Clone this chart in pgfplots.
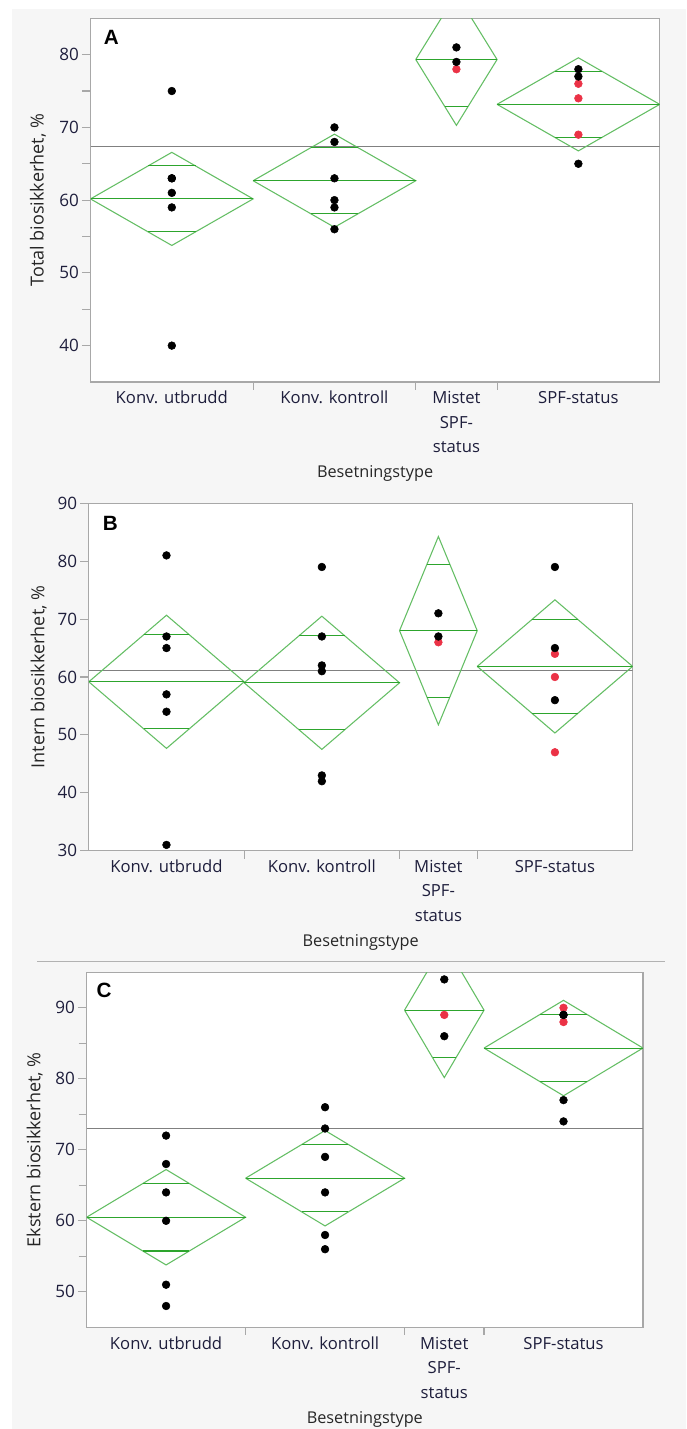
\documentclass[border=0pt]{standalone}
\usepackage{fontspec}
\setmainfont{Open Sans}
\newfontfamily\arialfont{Liberation Sans}
\usepackage{pgfplots}
\pgfplotsset{compat=1.18}
\definecolor{bg}{HTML}{F6F6F6}
\definecolor{dgreen}{RGB}{100,190,100}
\definecolor{mgreen}{RGB}{45,165,45}
\definecolor{ptred}{RGB}{235,50,70}
\definecolor{tickc}{RGB}{30,30,60}
\definecolor{framec}{HTML}{A8A8A8}
\definecolor{meanc}{HTML}{808080}
\newcommand{\mistet}{\vtop{\halign{\hfil##\hfil\cr Mistet\cr SPF-\cr status\cr}}}
\newcommand{\dia}[6]{%
  \addplot[dgreen, line width=0.8pt] coordinates {(#1,#4) (#2,#5) (#3,#4) (#2,#6) (#1,#4)};
  \addplot[mgreen, line width=0.8pt] coordinates {(#1,#4) (#3,#4)};
}
\newcommand{\ovl}[4]{%
  \addplot[mgreen, line width=0.8pt] coordinates {(#1,#3) (#2,#3)};
  \addplot[mgreen, line width=0.8pt] coordinates {(#1,#4) (#2,#4)};
}
\newcommand{\divtick}[2]{%
  \draw[framec, line width=0.8pt] (axis cs:#1,#2) -- ([yshift=-6pt]axis cs:#1,#2);
}
\pgfplotsset{
  jmp/.style={
    scale only axis, clip mode=individual,
    xmin=0, xmax=21,
    axis background/.style={fill=white},
    axis line style={framec, line width=0.8pt},
    xtick={3,9,13.5,18},
    xticklabels={Konv. utbrudd, Konv. kontroll, \mistet, SPF-status},
    xtick style={draw=none},
    xticklabel style={anchor=base, inner sep=0pt, yshift=-9.8pt, font=\fontsize{12.5}{18.4}\selectfont, text=tickc},
    ytick style={framec, line width=0.8pt},
    ytick pos=left,
    tick align=outside,
    major tick length=6.5pt, minor tick length=6pt,
    yticklabel style={anchor=east, inner sep=0pt, xshift=-2pt, font=\fontsize{12.8}{15}\selectfont, text=tickc},
    /pgf/number format/assume math mode=true,
    xlabel=Besetningstype,
    xlabel style={at={(axis description cs:0.5,0)}, anchor=base, yshift=-72pt, font=\fontsize{12.2}{14}\selectfont, text=black!85},
  }
}
\begin{document}
\begin{tikzpicture}
\useasboundingbox (0,0) rectangle (514.5pt,1071.75pt);
\fill[white] (0,0) rectangle (514.5pt,1071.75pt);
\fill[bg] (9pt,0) rectangle (514.5pt,1065pt);
\draw[black!30, line width=0.75pt] (27.75pt,350.25pt) -- (498.75pt,350.25pt);

% ---------------- Panel A
\begin{axis}[jmp, at={(67.875pt,785.25pt)}, anchor=south west,
  width=426.9pt, height=272.775pt,
  ymin=35, ymax=85, ytick={40,50,60,70,80}, minor ytick={45,55,65,75},
  ylabel={Total biosikkerhet, \%},
  ylabel style={at={(axis description cs:-0.0922,0.5)}, anchor=center, font=\fontsize{13.5}{15}\selectfont, text=black!85}]
\addplot[meanc, line width=0.8pt] coordinates {(0,67.33) (21,67.33)};
\dia{0}{3}{6}{60.17}{66.57}{53.77}
\ovl{2.121}{3.879}{64.70}{55.64}
\dia{6}{9}{12}{62.67}{69.07}{56.27}
\ovl{8.121}{9.879}{67.19}{58.14}
\dia{12}{13.5}{15}{79.33}{88.38}{70.28}
\ovl{13.061}{13.939}{85.73}{72.93}
\dia{15}{18}{21}{73.17}{79.57}{66.77}
\ovl{17.121}{18.879}{77.69}{68.64}
\addplot[only marks, mark=*, mark size=2.9pt, ptred, mark options={draw=ptred, fill=ptred}] coordinates {
(13.5,78) (18,76) (18,74) (18,69)};
\addplot[only marks, mark=*, mark size=2.9pt, black] coordinates {
(3,75) (3,63) (3,63) (3,61) (3,59) (3,40)
(9,70) (9,68) (9,63) (9,60) (9,59) (9,56)
(13.5,81) (13.5,79)
(18,78) (18,77) (18,65)};
\node[anchor=base west, inner sep=0pt, font=\arialfont\bfseries\fontsize{15.5}{18}\selectfont] at (rel axis cs:0,1) [xshift=9.9pt, yshift=-19.65pt] {A};
\divtick{6}{35}\divtick{12}{35}\divtick{15}{35}
\end{axis}

% ---------------- Panel B
\begin{axis}[jmp, at={(66.6pt,433.725pt)}, anchor=south west,
  width=407.85pt, height=260.55pt,
  ymin=30, ymax=90, ytick={30,40,50,60,70,80,90},
  ylabel={Intern biosikkerhet, \%},
  ylabel style={at={(axis description cs:-0.092,0.5)}, anchor=center, font=\fontsize{13.5}{15}\selectfont, text=black!85}]
\addplot[meanc, line width=0.8pt] coordinates {(0,61.14) (21,61.14)};
\dia{0}{3}{6}{59.17}{70.67}{47.67}
\ovl{2.121}{3.879}{67.30}{51.04}
\dia{6}{9}{12}{59.0}{70.5}{47.5}
\ovl{8.121}{9.879}{67.13}{50.87}
\dia{12}{13.5}{15}{68.0}{84.26}{51.74}
\ovl{13.061}{13.939}{79.5}{56.5}
\dia{15}{18}{21}{61.83}{73.33}{50.33}
\ovl{17.121}{18.879}{69.96}{53.70}
\addplot[only marks, mark=*, mark size=2.9pt, ptred, mark options={draw=ptred, fill=ptred}] coordinates {
(13.5,66) (18,64) (18,60) (18,47)};
\addplot[only marks, mark=*, mark size=2.9pt, black] coordinates {
(3,81) (3,67) (3,65) (3,57) (3,54) (3,31)
(9,79) (9,67) (9,62) (9,61) (9,43) (9,42)
(13.5,71) (13.5,67)
(18,79) (18,65) (18,56)};
\node[anchor=base west, inner sep=0pt, font=\arialfont\bfseries\fontsize{15.5}{18}\selectfont] at (rel axis cs:0,1) [xshift=10.3pt, yshift=-20.5pt] {B};
\divtick{6}{30}\divtick{12}{30}\divtick{15}{30}
\end{axis}

% ---------------- Panel C
\begin{axis}[jmp, at={(64.95pt,76.275pt)}, anchor=south west,
  width=417.3pt, height=266.25pt,
  ymin=45, ymax=95, ytick={50,60,70,80,90}, minor ytick={55,65,75,85},
  ylabel={Ekstern biosikkerhet, \%},
  ylabel style={at={(axis description cs:-0.0935,0.5)}, anchor=center, font=\fontsize{13.5}{15}\selectfont, text=black!85}]
\addplot[meanc, line width=0.8pt] coordinates {(0,73.05) (21,73.05)};
\dia{0}{3}{6}{60.5}{67.22}{53.78}
\ovl{2.121}{3.879}{65.25}{55.75}
\dia{6}{9}{12}{66.0}{72.72}{59.28}
\ovl{8.121}{9.879}{70.75}{61.25}
\dia{12}{13.5}{15}{89.67}{99.17}{80.17}
\ovl{13.061}{13.939}{96.39}{82.95}
\dia{15}{18}{21}{84.33}{91.05}{77.61}
\ovl{17.121}{18.879}{89.08}{79.58}
\addplot[only marks, mark=*, mark size=2.9pt, ptred, mark options={draw=ptred, fill=ptred}] coordinates {
(13.5,89) (18,90) (18,88)};
\addplot[only marks, mark=*, mark size=2.9pt, black] coordinates {
(3,72) (3,68) (3,64) (3,60) (3,51) (3,48)
(9,76) (9,73) (9,69) (9,64) (9,58) (9,56)
(13.5,94) (13.5,86)
(18,89) (18,89) (18,77) (18,74)};
\node[anchor=base west, inner sep=0pt, font=\arialfont\bfseries\fontsize{15.5}{18}\selectfont] at (rel axis cs:0,1) [xshift=7.3pt, yshift=-19pt] {C};
\divtick{6}{45}\divtick{12}{45}\divtick{15}{45}
\end{axis}
\end{tikzpicture}
\end{document}
